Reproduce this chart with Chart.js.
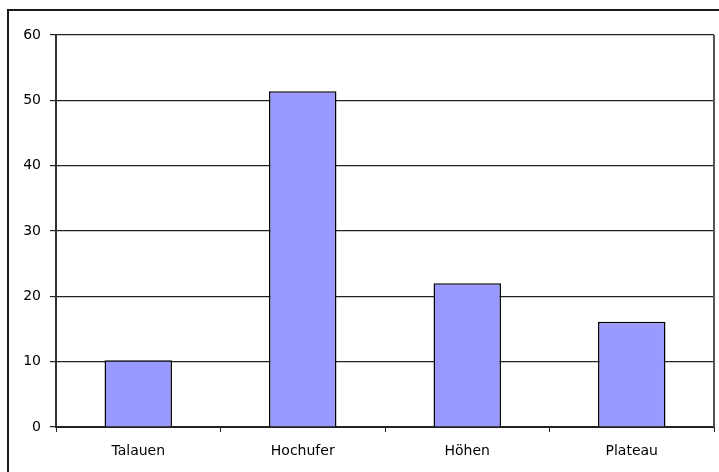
<!DOCTYPE html>
<html lang="de">
<head>
  <meta charset="UTF-8">
  <title>Talauen / Hochufer / Höhen / Plateau</title>
  <script src="https://cdn.jsdelivr.net/npm/chart.js"></script>
  <style>
    html, body {
      margin: 0;
      padding: 0;
      overflow: hidden;
      background: #fff;
    }
    #frame {
      position: absolute;
      left: 7px;
      top: 9px;
      width: 800px;
      height: 600px;
      border-left: 2px solid #1a1a1a;
      border-top: 2px solid #1a1a1a;
    }
    #wrap {
      position: absolute;
      left: 0;
      top: 0;
      width: 719px;
      height: 472px;
    }
  </style>
</head>
<body>
  <div id="frame"></div>
  <div id="wrap"><canvas id="barChart" width="719" height="472"></canvas></div>

  <script>
    // chart data
    const categories = ['Talauen', 'Hochufer', 'Höhen', 'Plateau'];
    const values = [10.2, 51.4, 22.0, 16.1];
    const yTicks = [0, 10, 20, 30, 40, 50, 60];

    // right edge of the plot area
    const plotBorder = {
      id: 'plotBorder',
      afterDraw(chart) {
        const { ctx, chartArea } = chart;
        ctx.save();
        ctx.strokeStyle = '#555';
        ctx.lineWidth = 2;
        ctx.beginPath();
        ctx.moveTo(chartArea.right, chartArea.top);
        ctx.lineTo(chartArea.right, chartArea.bottom);
        ctx.stroke();
        ctx.restore();
      }
    };

    const ctx = document.getElementById('barChart').getContext('2d');
    new Chart(ctx, {
      type: 'bar',
      data: {
        labels: categories,
        datasets: [{
          data: values,
          backgroundColor: '#9999ff',
          borderColor: '#000',
          borderWidth: 1.5,
          barPercentage: 0.41,
          categoryPercentage: 1
        }]
      },
      options: {
        responsive: false,
        animation: false,
        layout: { padding: { top: 35, right: 5, left: 0, bottom: 0 } },
        plugins: {
          legend: { display: false },
          tooltip: { enabled: false }
        },
        scales: {
          x: {
            offset: true,
            grid: {
              offset: true,
              drawOnChartArea: false,
              drawTicks: true,
              tickLength: 5,
              color: '#222'
            },
            border: { color: '#222', width: 2 },
            ticks: {
              color: '#000',
              padding: 11,
              font: { family: 'DejaVu Sans', size: 14 }
            },
            afterFit(scale) { scale.height = 45; }
          },
          y: {
            min: 0,
            max: 60,
            afterBuildTicks(scale) {
              scale.ticks = yTicks.map(v => ({ value: v }));
            },
            grid: {
              color: '#222',
              lineWidth: 1.2,
              tickLength: 6
            },
            border: { color: '#333', width: 2 },
            ticks: {
              color: '#000',
              padding: 9,
              font: { family: 'DejaVu Sans', size: 14 }
            },
            afterFit(scale) { scale.width = 56; }
          }
        }
      },
      plugins: [plotBorder]
    });
  </script>
</body>
</html>
